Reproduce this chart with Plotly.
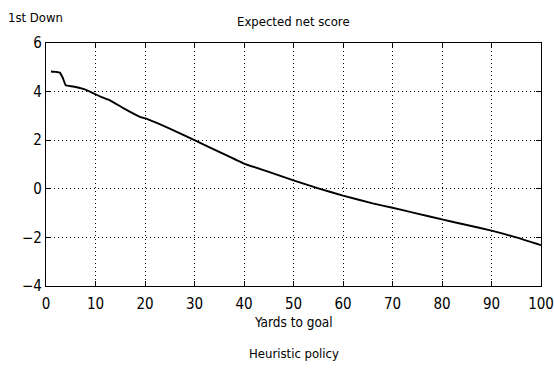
import plotly.graph_objects as go

# Expected net score on 1st down vs yards to goal (heuristic policy)
yards = [1, 2, 2.8, 3.4, 4.0, 5.5, 7.5, 9.6, 11, 13, 15.7, 19, 20.5, 25, 30, 35, 40,
         45, 50, 55, 60, 66, 70, 75, 80, 85, 90, 95, 100]
score = [4.83, 4.81, 4.78, 4.56, 4.26, 4.21, 4.11, 3.93, 3.79, 3.63, 3.31, 2.96, 2.87,
         2.48, 2.0, 1.52, 1.04, 0.7, 0.35, 0.02, -0.28, -0.6, -0.78, -1.02, -1.26,
         -1.49, -1.72, -2.0, -2.32]

FONT = "DejaVu Sans Condensed, Liberation Sans Narrow, Arial Narrow, sans-serif"

fig = go.Figure()
fig.add_trace(go.Scatter(x=yards, y=score, mode="lines",
                         line=dict(color="black", width=1.9, shape="spline", smoothing=0.4),
                         showlegend=False, hoverinfo="skip"))

axis_common = dict(
    showline=True, linecolor="black", linewidth=1.2, mirror="ticks",
    ticks="inside", ticklen=5, tickcolor="black", tickwidth=1,
    showgrid=True, gridcolor="black", gridwidth=1, griddash="1px,3px",
    zeroline=False, automargin=False, ticklabeloverflow="allow",
    tickfont=dict(family=FONT, size=15, color="black"),
)

fig.update_xaxes(range=[0, 100], tickvals=list(range(0, 101, 10)),
                 ticklabelstandoff=4, **axis_common)
fig.update_yaxes(range=[-4, 6], tickvals=[-4, -2, 0, 2, 4, 6], **axis_common)

fig.update_layout(
    width=554, height=374,
    margin=dict(l=46, r=13, t=43, b=88),
    paper_bgcolor="white", plot_bgcolor="white",
    font=dict(family=FONT, size=13, color="black"),
    annotations=[
        dict(text="1st Down", x=-46 / 495, y=1.0, xref="paper", yref="paper",
             xshift=6, yshift=26, showarrow=False, xanchor="left", yanchor="middle",
             font=dict(size=13)),
        dict(text="Expected net score", x=0.5, y=1.0, xref="paper", yref="paper",
             yshift=22, showarrow=False, xanchor="center", yanchor="middle", font=dict(size=13)),
        dict(text="Yards to goal", x=0.5, y=0.0, xref="paper", yref="paper",
             yshift=-36, showarrow=False, xanchor="center", yanchor="middle", font=dict(size=13.5)),
        dict(text="Heuristic policy", x=0.5, y=0.0, xref="paper", yref="paper",
             yshift=-67, showarrow=False, xanchor="center", yanchor="middle", font=dict(size=13)),
    ],
)

fig.write_html("out.html")
